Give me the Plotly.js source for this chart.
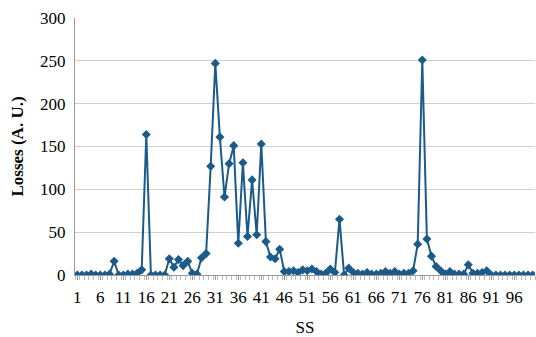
<!DOCTYPE html>
<html>
<head>
<meta charset="utf-8">
<script src="https://cdn.plot.ly/plotly-3.0.1.min.js"></script>
<style>html,body{margin:0;padding:0;background:#fff;}#chart{width:536px;height:337px;}</style>
</head>
<body>
<div id="chart"></div>
<script>
const ss = Array.from({length: 100}, (_, i) => i + 1);
const losses = [
  0, 0, 0, 1, 0, 0, 0, 1, 16, 0,
  0, 1, 1, 2, 6, 164, 0, 0, 0, 0,
  19, 9, 18, 11, 16, 2, 1, 20, 25, 127,
  247, 161, 91, 130, 151, 37, 131, 45, 111, 47,
  153, 39, 21, 19, 30, 4, 4, 5, 3, 6,
  5, 7, 4, 1, 2, 7, 3, 65, 0, 8,
  3, 2, 1, 3, 1, 1, 2, 4, 2, 4,
  1, 2, 2, 5, 36, 251, 42, 22, 10, 5,
  1, 4, 1, 1, 1, 12, 2, 2, 3, 5,
  0, 0, 0, 0, 0, 0, 0, 0, 0, 0
];
const xTickVals = [1, 6, 11, 16, 21, 26, 31, 36, 41, 46, 51, 56, 61, 66, 71, 76, 81, 86, 91, 96];
const xTickText = xTickVals.map(String);
const yTickVals = [0, 50, 100, 150, 200, 250, 300];

const font = "Liberation Serif";
const lineColor = "#1b5b8a";

Plotly.newPlot("chart", [{
  x: ss,
  y: losses,
  type: "scatter",
  mode: "lines+markers",
  line: {color: lineColor, width: 2},
  marker: {symbol: "diamond", size: 7, color: lineColor},
  hoverinfo: "skip"
}], {
  width: 536,
  height: 337,
  margin: {l: 75, r: 1, t: 18, b: 62},
  paper_bgcolor: "#fff",
  plot_bgcolor: "#fff",
  showlegend: false,
  font: {family: font, size: 17, color: "#000"},
  xaxis: {
    range: [0.5, 100.5],
    tickmode: "array",
    tickvals: xTickVals,
    ticktext: xTickText,
    ticks: "outside",
    ticklen: 4,
    tickcolor: "#999",
    minor: {dtick: 1, tick0: 0.5, ticks: "outside", ticklen: 4, tickcolor: "#bbb", showgrid: false},
    showgrid: false,
    zeroline: false,
    showline: true,
    linecolor: "#999",
    linewidth: 1,
    ticklabelstandoff: 3,
    tickfont: {family: font, size: 17, color: "#000"},
    title: {text: "SS", font: {family: font, size: 17, color: "#000"}, standoff: 15}
  },
  yaxis: {
    range: [0, 300],
    tickmode: "array",
    tickvals: yTickVals,
    ticks: "",
    showgrid: true,
    gridcolor: "#d0d0d0",
    gridwidth: 1,
    zeroline: false,
    showline: true,
    linecolor: "#999",
    linewidth: 1,
    ticklabelstandoff: 5,
    tickfont: {family: font, size: 17, color: "#000"},
    title: {text: "<b>Losses (A. U.)</b>", font: {family: font, size: 17, color: "#000"}, standoff: 12}
  }
}, {staticPlot: true});
</script>
</body>
</html>
